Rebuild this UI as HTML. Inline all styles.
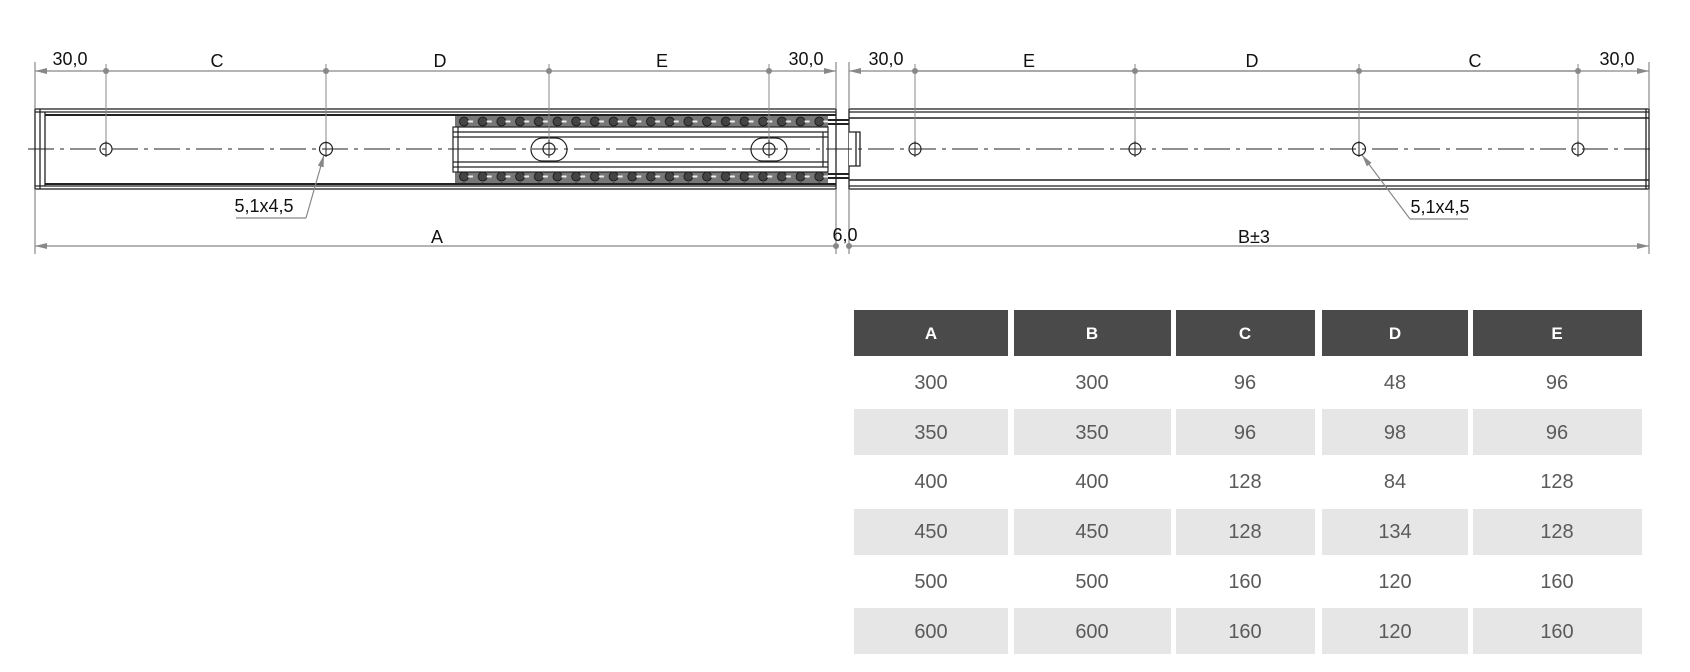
<!DOCTYPE html>
<html><head><meta charset="utf-8"><style>
html,body{margin:0;padding:0;background:#fff;width:1690px;height:672px;overflow:hidden}
svg{display:block}
.t{font-family:"Liberation Sans Narrow","Liberation Sans",sans-serif;font-size:18px;fill:#111}
.h{font-family:"Liberation Sans Narrow","Liberation Sans",sans-serif;font-size:17px;font-weight:bold;fill:#fff}
.d{font-family:"Liberation Sans Narrow","Liberation Sans",sans-serif;font-size:20px;fill:#5a5a5a}
</style></head><body>
<svg width="1690" height="672" viewBox="0 0 1690 672" xmlns="http://www.w3.org/2000/svg">
<defs>
<marker id="ar" markerWidth="12" markerHeight="6" refX="12" refY="3" orient="auto-start-reverse" markerUnits="userSpaceOnUse"><path d="M0,0L12,3L0,6z" fill="#888"/></marker>
<pattern id="balls" width="18.7" height="11" patternUnits="userSpaceOnUse" x="455" y="116">
<rect width="18.7" height="11" fill="#777"/><circle cx="9" cy="5.5" r="4.5" fill="#444" stroke="#111" stroke-width="0.8"/><rect x="13" y="4.5" width="5" height="2" fill="#eee"/>
</pattern>
</defs>
<!-- left rail -->
<g stroke="#222" fill="none" stroke-width="1.3">
<rect x="35" y="109" width="801" height="80" fill="#fff"/>
<line x1="35" y1="112" x2="836" y2="112"/>
<line x1="45" y1="115" x2="836" y2="115" stroke-width="2"/>
<line x1="45" y1="184" x2="836" y2="184" stroke-width="2"/>
<line x1="35" y1="186" x2="836" y2="186"/>
<line x1="40" y1="109" x2="40" y2="189"/>
<line x1="45" y1="112" x2="45" y2="186"/>
</g>
<rect x="455" y="116" width="373" height="11" fill="url(#balls)"/>
<rect x="455" y="172" width="373" height="11" fill="url(#balls)"/>
<g stroke="#222" fill="none" stroke-width="1.2">
<rect x="453" y="127" width="375" height="45" fill="#fff"/>
<line x1="453" y1="132" x2="828" y2="132"/>
<line x1="453" y1="137" x2="828" y2="137"/>
<line x1="453" y1="162" x2="828" y2="162"/>
<line x1="453" y1="167" x2="828" y2="167"/>
<line x1="458" y1="127" x2="458" y2="172"/>
<line x1="823" y1="132" x2="823" y2="167"/>
<line x1="828" y1="120" x2="849" y2="120" stroke-width="2"/>
<line x1="828" y1="124" x2="849" y2="124" stroke-width="2"/>
<line x1="828" y1="174" x2="849" y2="174" stroke-width="2"/>
<line x1="828" y1="178" x2="849" y2="178" stroke-width="2"/>
<rect x="531" y="138" width="36" height="23" rx="11.5"/>
<rect x="751" y="138" width="36" height="23" rx="11.5"/>
</g>
<!-- right rail -->
<g stroke="#222" fill="none" stroke-width="1.3">
<rect x="849" y="109" width="800" height="80" fill="#fff"/>
<line x1="849" y1="112" x2="1649" y2="112"/>
<line x1="849" y1="118" x2="1649" y2="118" stroke-width="1.6"/>
<line x1="849" y1="180" x2="1649" y2="180" stroke-width="1.6"/>
<line x1="849" y1="186" x2="1649" y2="186"/>
<line x1="1646" y1="109" x2="1646" y2="189"/>
<polyline points="849,132 860,132 860,166 849,166" fill="#fff"/>
<line x1="856" y1="132" x2="856" y2="166"/>
</g>
<!-- centerline -->
<line x1="28" y1="149" x2="1656" y2="149" stroke="#222" stroke-width="1" stroke-dasharray="26,6,4,6"/>
<!-- dims -->
<g stroke="#888" stroke-width="1.2" fill="none">
<line x1="35" y1="62" x2="35" y2="109"/>
<line x1="836" y1="62" x2="836" y2="109"/>
<line x1="849" y1="62" x2="849" y2="109"/>
<line x1="1649" y1="62" x2="1649" y2="109"/>
<line x1="35" y1="71" x2="106" y2="71" marker-start="url(#ar)"/>
<line x1="106" y1="71" x2="836" y2="71" marker-end="url(#ar)"/>
<line x1="849" y1="71" x2="1578" y2="71" marker-start="url(#ar)"/>
<line x1="915" y1="71" x2="1649" y2="71" marker-end="url(#ar)"/>
<g stroke-width="1">
<line x1="106" y1="64" x2="106" y2="142"/><line x1="326" y1="64" x2="326" y2="142"/>
<line x1="549" y1="64" x2="549" y2="141"/><line x1="769" y1="64" x2="769" y2="141"/>
<line x1="915" y1="64" x2="915" y2="142"/><line x1="1135" y1="64" x2="1135" y2="142"/>
<line x1="1359" y1="64" x2="1359" y2="142"/><line x1="1578" y1="64" x2="1578" y2="142"/>
</g>
<line x1="35" y1="189" x2="35" y2="254"/>
<line x1="836" y1="189" x2="836" y2="254"/>
<line x1="849" y1="189" x2="849" y2="254"/>
<line x1="1649" y1="189" x2="1649" y2="254"/>
<line x1="836" y1="246" x2="35" y2="246" marker-end="url(#ar)"/>
<line x1="849" y1="246" x2="1649" y2="246" marker-end="url(#ar)"/>
<polyline points="236,218 306,218"/>
<line x1="306" y1="218" x2="324" y2="155" marker-end="url(#ar)"/>
<polyline points="1468,219 1410,219"/>
<line x1="1410" y1="219" x2="1362" y2="155" marker-end="url(#ar)"/>
</g>
<g fill="#888">
<circle cx="106" cy="71" r="3"/><circle cx="326" cy="71" r="3"/><circle cx="549" cy="71" r="3"/><circle cx="769" cy="71" r="3"/>
<circle cx="915" cy="71" r="3"/><circle cx="1135" cy="71" r="3"/><circle cx="1359" cy="71" r="3"/><circle cx="1578" cy="71" r="3"/>
<circle cx="836" cy="246" r="3"/><circle cx="849" cy="246" r="3"/>
</g>
<!-- holes -->
<g stroke="#222" stroke-width="1.2" fill="none">
<circle cx="106" cy="149" r="6"/><circle cx="326" cy="149" r="6.5"/>
<circle cx="549" cy="149" r="6"/><circle cx="769" cy="149" r="6"/>
<circle cx="915" cy="149" r="6"/><circle cx="1135" cy="149" r="6"/>
<circle cx="1359" cy="149" r="6.5"/><circle cx="1578" cy="149" r="6"/>
</g>
<g stroke="#222" stroke-width="1">
<line x1="106" y1="141" x2="106" y2="157"/><line x1="326" y1="141" x2="326" y2="157"/>
<line x1="549" y1="140" x2="549" y2="158"/><line x1="769" y1="140" x2="769" y2="158"/>
<line x1="915" y1="141" x2="915" y2="157"/><line x1="1135" y1="141" x2="1135" y2="157"/>
<line x1="1359" y1="141" x2="1359" y2="157"/><line x1="1578" y1="141" x2="1578" y2="157"/>
<line x1="541" y1="149" x2="557" y2="149"/><line x1="761" y1="149" x2="777" y2="149"/>
</g>
<g class="t" text-anchor="middle">
<text x="70" y="65">30,0</text><text x="217" y="67">C</text><text x="440" y="67">D</text><text x="662" y="67">E</text><text x="806" y="65">30,0</text>
<text x="886" y="65">30,0</text><text x="1029" y="67">E</text><text x="1252" y="67">D</text><text x="1475" y="67">C</text><text x="1617" y="65">30,0</text>
<text x="437" y="243">A</text><text x="845" y="241">6,0</text><text x="1254" y="243">B±3</text>
<text x="264" y="212">5,1x4,5</text><text x="1440" y="213">5,1x4,5</text>
</g>
<!-- table -->
<g fill="#4a4a4a">
<rect x="854" y="310" width="154" height="46"/><rect x="1014" y="310" width="157" height="46"/><rect x="1176" y="310" width="139" height="46"/><rect x="1322" y="310" width="146" height="46"/><rect x="1473" y="310" width="169" height="46"/>
</g>
<g fill="#e6e6e6">
<rect x="854" y="409" width="154" height="46"/><rect x="1014" y="409" width="157" height="46"/><rect x="1176" y="409" width="139" height="46"/><rect x="1322" y="409" width="146" height="46"/><rect x="1473" y="409" width="169" height="46"/>
<rect x="854" y="509" width="154" height="46"/><rect x="1014" y="509" width="157" height="46"/><rect x="1176" y="509" width="139" height="46"/><rect x="1322" y="509" width="146" height="46"/><rect x="1473" y="509" width="169" height="46"/>
<rect x="854" y="608" width="154" height="46"/><rect x="1014" y="608" width="157" height="46"/><rect x="1176" y="608" width="139" height="46"/><rect x="1322" y="608" width="146" height="46"/><rect x="1473" y="608" width="169" height="46"/>
</g>
<g class="h" text-anchor="middle">
<text x="931" y="339">A</text><text x="1092" y="339">B</text><text x="1245" y="339">C</text><text x="1395" y="339">D</text><text x="1557" y="339">E</text>
</g>
<g class="d" text-anchor="middle">
<text x="931" y="389">300</text><text x="1092" y="389">300</text><text x="1245" y="389">96</text><text x="1395" y="389">48</text><text x="1557" y="389">96</text>
<text x="931" y="439">350</text><text x="1092" y="439">350</text><text x="1245" y="439">96</text><text x="1395" y="439">98</text><text x="1557" y="439">96</text>
<text x="931" y="488">400</text><text x="1092" y="488">400</text><text x="1245" y="488">128</text><text x="1395" y="488">84</text><text x="1557" y="488">128</text>
<text x="931" y="538">450</text><text x="1092" y="538">450</text><text x="1245" y="538">128</text><text x="1395" y="538">134</text><text x="1557" y="538">128</text>
<text x="931" y="588">500</text><text x="1092" y="588">500</text><text x="1245" y="588">160</text><text x="1395" y="588">120</text><text x="1557" y="588">160</text>
<text x="931" y="638">600</text><text x="1092" y="638">600</text><text x="1245" y="638">160</text><text x="1395" y="638">120</text><text x="1557" y="638">160</text>
</g>
</svg>
</body></html>
